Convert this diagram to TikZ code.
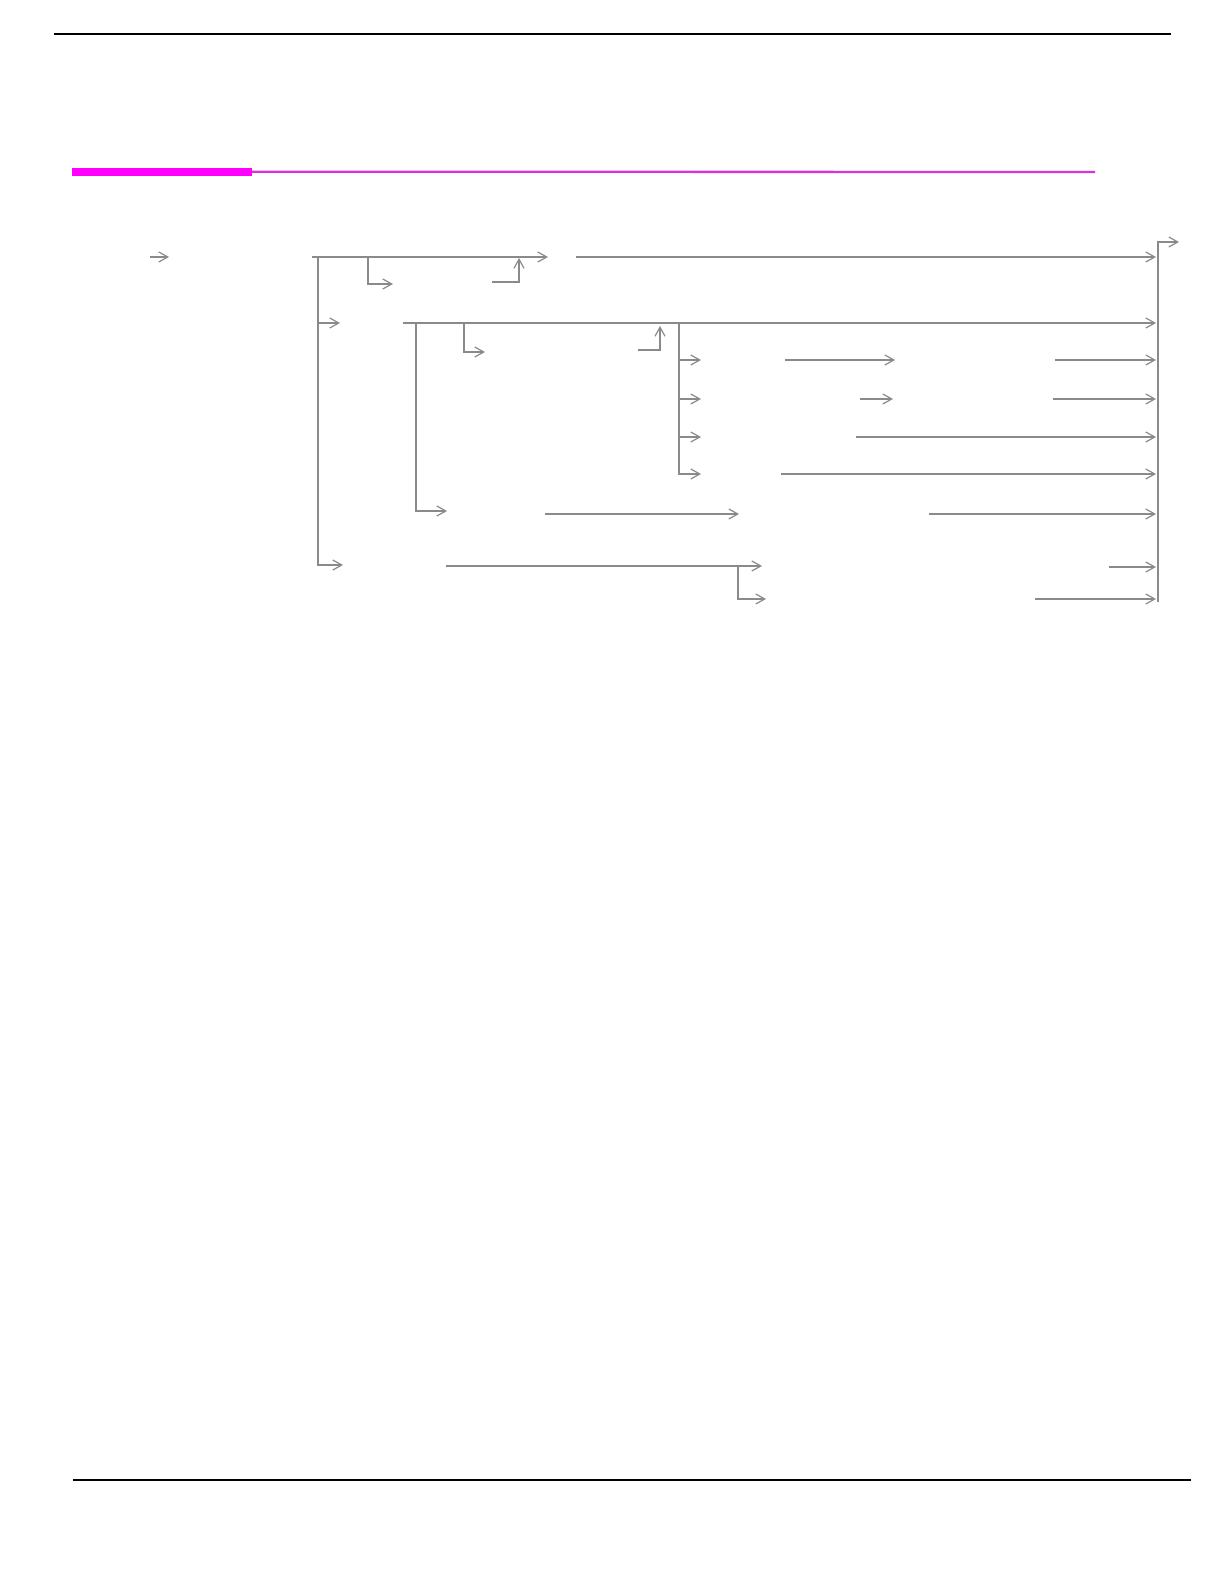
\documentclass[tikz,border=0pt]{standalone}
\usetikzlibrary{arrows.meta}
\definecolor{railgray}{RGB}{138,138,138}
\definecolor{magbar}{RGB}{255,0,255}
\definecolor{magthin}{RGB}{214,52,214}
\tikzset{
  rail/.style={draw=railgray,line width=0.6pt},
  arr/.style={rail,-{Straight Barb[length=4.5pt,width=5pt,line width=0.6pt]}},
  rule/.style={draw=black,line width=1pt}
}
\begin{document}
\begin{tikzpicture}[x=0.5pt,y=-0.5pt]
\useasboundingbox (0,0) rectangle (1224,1582);
% page rules
\coordinate (t1) at (54,34);   \coordinate (t2) at (1171,34);
\coordinate (m1) at (72,171.7); \coordinate (m2) at (252,171.7); \coordinate (m3) at (1095,172);
\coordinate (b1) at (73,1480); \coordinate (b2) at (1191,1480);
\draw[rule] (t1) -- (t2);
\draw[draw=magbar,line width=4pt] (m1) -- (m2);
\draw[draw=magthin,line width=1.15pt] (m2) -- (m3);
\draw[rule] (b1) -- (b2);
% ---- row 1 (y=257)
\coordinate (s0) at (150,257); \coordinate (s1) at (169,257);
\coordinate (a0) at (312,257); \coordinate (a1) at (548,257);
\coordinate (a2) at (576,257); \coordinate (a3) at (1156,257);
\coordinate (c0) at (368,257); \coordinate (c1) at (368,284); \coordinate (c2) at (393,284);
\coordinate (u0) at (492,282); \coordinate (u1) at (519,282); \coordinate (u2) at (519,258);
\coordinate (r0) at (1158,602); \coordinate (r1) at (1158,242); \coordinate (r2) at (1179,242);
\draw[arr] (s0) -- (s1);
\draw[arr] (a0) -- (a1);
\draw[arr] (a2) -- (a3);
\draw[arr] (c0) -- (c1) -- (c2);
\draw[arr] (u0) -- (u1) -- (u2);
\draw[arr] (r0) -- (r1) -- (r2);
% ---- left spine (x=318)
\coordinate (v0) at (318,257); \coordinate (v1) at (318,565); \coordinate (v2) at (343,565);
\coordinate (v3) at (318,323); \coordinate (v4) at (340,323);
\draw[arr] (v0) -- (v1) -- (v2);
\draw[arr] (v3) -- (v4);
% ---- row 2 (y=323)
\coordinate (d0) at (403,323); \coordinate (d1) at (1156,323);
\coordinate (w0) at (416,323); \coordinate (w1) at (416,511); \coordinate (w2) at (447,511);
\coordinate (e0) at (464,323); \coordinate (e1) at (464,352); \coordinate (e2) at (485,352);
\coordinate (f0) at (638,350); \coordinate (f1) at (660,350); \coordinate (f2) at (660,326);
\draw[arr] (d0) -- (d1);
\draw[arr] (w0) -- (w1) -- (w2);
\draw[arr] (e0) -- (e1) -- (e2);
\draw[arr] (f0) -- (f1) -- (f2);
% ---- inner spine (x=679)
\coordinate (g0) at (679,323); \coordinate (g1) at (679,474); \coordinate (g2) at (701,474);
\coordinate (h1) at (679,360); \coordinate (h2) at (701,360);
\coordinate (h3) at (679,399); \coordinate (h4) at (701,399);
\coordinate (h5) at (679,437); \coordinate (h6) at (701,437);
\draw[arr] (g0) -- (g1) -- (g2);
\draw[arr] (h1) -- (h2);
\draw[arr] (h3) -- (h4);
\draw[arr] (h5) -- (h6);
% ---- right-hand rows
\coordinate (p0) at (785,360);  \coordinate (p1) at (895,360);
\coordinate (p2) at (1055,360); \coordinate (p3) at (1156,360);
\coordinate (q0) at (860,399);  \coordinate (q1) at (893,399);
\coordinate (q2) at (1053,399); \coordinate (q3) at (1156,399);
\coordinate (k0) at (856,437);  \coordinate (k1) at (1156,437);
\coordinate (l0) at (781,474);  \coordinate (l1) at (1156,474);
\coordinate (n0) at (545,514);  \coordinate (n1) at (739,514);
\coordinate (n2) at (929,514);  \coordinate (n3) at (1156,514);
\coordinate (o0) at (446,566);  \coordinate (o1) at (762,566);
\coordinate (o2) at (738,566);  \coordinate (o3) at (738,599); \coordinate (o4) at (766,599);
\coordinate (o5) at (1109,567); \coordinate (o6) at (1156,567);
\coordinate (z0) at (1035,599); \coordinate (z1) at (1156,599);
\draw[arr] (p0) -- (p1);
\draw[arr] (p2) -- (p3);
\draw[arr] (q0) -- (q1);
\draw[arr] (q2) -- (q3);
\draw[arr] (k0) -- (k1);
\draw[arr] (l0) -- (l1);
\draw[arr] (n0) -- (n1);
\draw[arr] (n2) -- (n3);
\draw[arr] (o0) -- (o1);
\draw[arr] (o2) -- (o3) -- (o4);
\draw[arr] (o5) -- (o6);
\draw[arr] (z0) -- (z1);
\end{tikzpicture}
\end{document}
